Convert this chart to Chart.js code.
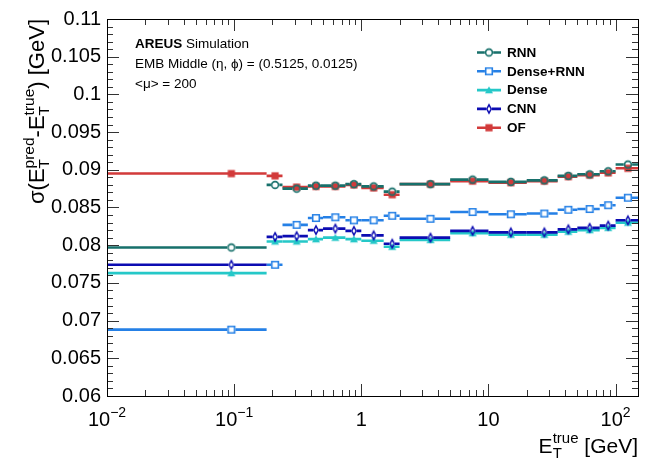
<!DOCTYPE html>
<html><head><meta charset="utf-8">
<script src="https://cdn.jsdelivr.net/npm/chart.js@4.4.1/dist/chart.umd.min.js"></script>
<style>html,body{margin:0;padding:0;background:#fff}#wrap{width:645px;height:462px;position:relative}</style>
</head><body><div id="wrap"><canvas id="c" width="645" height="462"></canvas></div>
<script>
// ---------- data ----------
const binEdges   = [0.01, 0.18, 0.24, 0.38, 0.5, 0.75, 1.0, 1.5, 2.0, 5.0, 10, 20, 35, 50, 75, 100, 150];
const binCenters = [0.095, 0.21, 0.31, 0.44, 0.625, 0.875, 1.25, 1.75, 3.5, 7.5, 15, 27.5, 42.5, 62.5, 87.5, 125];
const seriesNames = ["RNN", "Dense+RNN", "Dense", "CNN", "OF"];
const rnnValues      = [0.0797, 0.0880, 0.0875, 0.0879, 0.0879, 0.0881, 0.0878, 0.0871, 0.0881, 0.0887, 0.0884, 0.0886, 0.0892, 0.0894, 0.0898, 0.0907];
const denseRnnValues = [0.0688, 0.0774, 0.0827, 0.0836, 0.0837, 0.0833, 0.0833, 0.0839, 0.0835, 0.0844, 0.0841, 0.0842, 0.0847, 0.0848, 0.0853, 0.0863];
const denseValues    = [0.0763, 0.0805, 0.0805, 0.0808, 0.0810, 0.0808, 0.0806, 0.0798, 0.0807, 0.0816, 0.0814, 0.0814, 0.0818, 0.0820, 0.0823, 0.0830];
const cnnValues      = [0.0774, 0.0811, 0.0812, 0.0820, 0.0822, 0.0819, 0.0813, 0.0802, 0.0810, 0.0819, 0.0817, 0.0817, 0.0821, 0.0823, 0.0826, 0.0833];
const ofValues       = [0.0895, 0.0892, 0.0877, 0.0878, 0.0878, 0.0880, 0.0876, 0.0867, 0.0881, 0.0885, 0.0883, 0.0885, 0.0891, 0.0893, 0.0896, 0.0902];
const yTickValues  = [0.06, 0.065, 0.07, 0.075, 0.08, 0.085, 0.09, 0.095, 0.1, 0.105, 0.11];
const yTickLabels  = ["0.06", "0.065", "0.07", "0.075", "0.08", "0.085", "0.09", "0.095", "0.1", "0.105", "0.11"];
const xTickValues  = [0.01, 0.1, 1, 10, 100];
const xTickLabels  = [["10", "\u22122"], ["10", "\u22121"], ["1", ""], ["10", ""], ["10", "2"]];
const annotationLines = [["AREUS", " Simulation"], ["", "EMB Middle (\u03b7, \u03d5) = (0.5125, 0.0125)"], ["", "<\u03bc> = 200"]];

// ---------- styles ----------
const FONT = "'Liberation Sans', Arimo, Helvetica, Arial, 'DejaVu Sans', sans-serif";
const styles = {
  "RNN":       {color: "#17706b", marker: "circle"},
  "Dense+RNN": {color: "#2580e6", marker: "square"},
  "Dense":     {color: "#25c8c8", marker: "triangle"},
  "CNN":       {color: "#0c0cb2", marker: "diamond"},
  "OF":        {color: "#d23a3a", marker: "fsquare"}
};

function makeMarker(kind, color) {
  const c = document.createElement('canvas');
  c.width = 14; c.height = 14;
  const g = c.getContext('2d');
  g.translate(7, 7);
  g.strokeStyle = color; g.fillStyle = color; g.lineWidth = 1.6;
  g.beginPath();
  if (kind === 'circle') { g.arc(0, 0, 3.4, 0, Math.PI * 2); g.stroke(); }
  else if (kind === 'square') { g.rect(-3.3, -3.3, 6.6, 6.6); g.stroke(); }
  else if (kind === 'fsquare') { g.rect(-3.6, -3.6, 7.2, 7.2); g.fill(); }
  else if (kind === 'triangle') { g.moveTo(0, -3.8); g.lineTo(4, 3.2); g.lineTo(-4, 3.2); g.closePath(); g.fill(); }
  else if (kind === 'diamond') { g.lineWidth = 1.5; g.moveTo(0, -4.2); g.lineTo(2.2, 0); g.lineTo(0, 4.2); g.lineTo(-2.2, 0); g.closePath(); g.stroke(); }
  return c;
}
const gaps = {circle: 4.2, square: 4.1, fsquare: 0, triangle: 0, diamond: 2.8};

function mkDataset(name, values) {
  const st = styles[name];
  return {
    label: name,
    data: values.map((v, i) => ({x: binCenters[i], y: v, lo: binEdges[i], hi: binEdges[i + 1]})),
    borderColor: st.color, backgroundColor: st.color,
    pointStyle: makeMarker(st.marker, st.color),
    pointRadius: 5, showLine: false,
    gap: gaps[st.marker], markerKind: st.marker
  };
}
// order in array controls drawing (index 0 drawn last / on top)
const datasets = [
  mkDataset("RNN", rnnValues),
  mkDataset("CNN", cnnValues),
  mkDataset("Dense+RNN", denseRnnValues),
  mkDataset("Dense", denseValues),
  mkDataset("OF", ofValues)
];

// ---------- rich text helpers ----------
function partWidth(ctx, p) {
  if (p.stack) return Math.max(...p.stack.map(q => partWidth(ctx, q)));
  ctx.font = (p.b ? 'bold ' : '') + p.s + 'px ' + FONT;
  return ctx.measureText(p.t).width;
}
function drawParts(ctx, parts, x, y, align) {
  const w = parts.reduce((a, p) => a + partWidth(ctx, p), 0);
  let cx = align === 'right' ? x - w : (align === 'center' ? x - w / 2 : x);
  ctx.textAlign = 'left'; ctx.textBaseline = 'alphabetic';
  for (const p of parts) {
    const pw = partWidth(ctx, p);
    const items = p.stack ? p.stack : [p];
    for (const q of items) {
      ctx.font = (q.b ? 'bold ' : '') + q.s + 'px ' + FONT;
      ctx.fillText(q.t, cx, y + (q.dy || 0));
    }
    cx += pw;
  }
}

const decor = {
  id: 'decor',
  beforeDatasetDraw(chart, args) {
    const ds = chart.data.datasets[args.index];
    const xs = chart.scales.x, ys = chart.scales.y, ctx = chart.ctx;
    ctx.save();
    ctx.strokeStyle = ds.borderColor; ctx.lineWidth = 2.6; ctx.lineCap = 'butt';
    ds.data.forEach(p => {
      const x1 = xs.getPixelForValue(p.lo), x2 = xs.getPixelForValue(p.hi);
      const xc = xs.getPixelForValue(p.x), y = ys.getPixelForValue(p.y);
      const g = ds.gap;
      ctx.beginPath();
      ctx.moveTo(x1, y); ctx.lineTo(Math.max(x1, xc - g), y);
      ctx.moveTo(Math.min(x2, xc + g), y); ctx.lineTo(x2, y);
      ctx.stroke();
    });
    ctx.restore();
  },
  afterDraw(chart) {
    const ctx = chart.ctx, a = chart.chartArea, xs = chart.scales.x, ys = chart.scales.y;
    ctx.save();
    // ticks
    ctx.strokeStyle = '#333'; ctx.lineWidth = 1;
    ctx.beginPath();
    for (let k = 60; k <= 110; k++) {
      const v = k / 1000, y = Math.round(ys.getPixelForValue(v)) + 0.5;
      const len = (k % 5 === 0) ? 12 : 6;
      ctx.moveTo(a.left, y); ctx.lineTo(a.left + len, y);
      ctx.moveTo(a.right, y); ctx.lineTo(a.right - len, y);
    }
    for (let e = -2; e <= 2; e++) {
      for (let m = 1; m <= 9; m++) {
        const v = m * Math.pow(10, e);
        if (v > 150) continue;
        const x = Math.round(xs.getPixelForValue(v)) + 0.5;
        const len = m === 1 ? 12 : 6;
        ctx.moveTo(x, a.bottom); ctx.lineTo(x, a.bottom - len);
        ctx.moveTo(x, a.top); ctx.lineTo(x, a.top + len);
      }
    }
    ctx.stroke();
    // frame
    ctx.strokeStyle = '#000';
    ctx.strokeRect(Math.round(a.left) + 0.5, Math.round(a.top) + 0.5, Math.round(a.right - a.left), Math.round(a.bottom - a.top));
    // x tick labels
    ctx.fillStyle = '#000';
    xTickValues.forEach((v, i) => {
      const x = xs.getPixelForValue(v);
      const [base, ex] = xTickLabels[i];
      const parts = [{t: base, s: 20}];
      if (ex) parts.push({t: ex, s: 14, dy: -9});
      drawParts(ctx, parts, x, 426, 'center');
    });
    // x title
    drawParts(ctx, [{t: 'E', s: 21}, {stack: [{t: 'true', s: 15, dy: -10}, {t: 'T', s: 15, dy: 5}]}, {t: ' [GeV]', s: 21}], a.right, 453, 'right');
    // y title
    ctx.save();
    ctx.translate(44, a.top);
    ctx.rotate(-Math.PI / 2);
    drawParts(ctx, [{t: '\u03c3(E', s: 22}, {stack: [{t: 'pred', s: 15.5, dy: -10}, {t: 'T', s: 15.5, dy: 5}]},
      {t: '-E', s: 22}, {stack: [{t: 'true', s: 15.5, dy: -10}, {t: 'T', s: 15.5, dy: 5}]}, {t: ') [GeV]', s: 22}], 0, 0, 'right');
    ctx.restore();
    // annotation
    const baseY = [48, 68, 88];
    annotationLines.forEach((ln, i) => {
      const parts = [];
      if (ln[0]) parts.push({t: ln[0], s: 13.5, b: true});
      parts.push({t: ln[1], s: 13.5});
      drawParts(ctx, parts, 135, baseY[i], 'left');
    });
    // legend
    const rowY = [52.5, 71.3, 90.1, 108.9, 127.7];
    seriesNames.forEach((name, i) => {
      const st = styles[name];
      const y = rowY[i];
      const g = gaps[st.marker];
      ctx.strokeStyle = st.color; ctx.lineWidth = 2.6;
      ctx.beginPath();
      ctx.moveTo(477, y); ctx.lineTo(489 - g, y);
      ctx.moveTo(489 + g, y); ctx.lineTo(501, y);
      ctx.stroke();
      ctx.drawImage(makeMarker(st.marker, st.color), 489 - 7, y - 7);
      ctx.fillStyle = '#000';
      ctx.font = 'bold 13.5px ' + FONT;
      ctx.textBaseline = 'middle'; ctx.textAlign = 'left';
      ctx.fillText(name, 507, y + 0.5);
    });
    ctx.restore();
  }
};

new Chart(document.getElementById('c'), {
  type: 'scatter',
  data: {datasets},
  options: {
    responsive: false, animation: false, devicePixelRatio: 1,
    layout: {padding: {top: 19, right: 7, left: 0, bottom: 0}},
    plugins: {legend: {display: false}, tooltip: {enabled: false}},
    scales: {
      x: {
        type: 'logarithmic', min: 0.01, max: 150, position: 'bottom',
        ticks: {display: false}, grid: {display: false}, border: {display: false},
        afterFit: s => { s.height = 66; }
      },
      y: {
        type: 'linear', min: 0.06, max: 0.11, position: 'left',
        afterBuildTicks: s => { s.ticks = yTickValues.map(v => ({value: v})); },
        afterFit: s => { s.width = 107; },
        ticks: {
          autoSkip: false, padding: 6, color: '#000',
          font: {family: FONT, size: 20},
          callback: (v) => yTickLabels[yTickValues.findIndex(t => Math.abs(t - v) < 1e-9)] ?? ''
        },
        grid: {display: false, drawTicks: false}, border: {display: false}
      }
    }
  },
  plugins: [decor]
});
</script>
</body></html>
